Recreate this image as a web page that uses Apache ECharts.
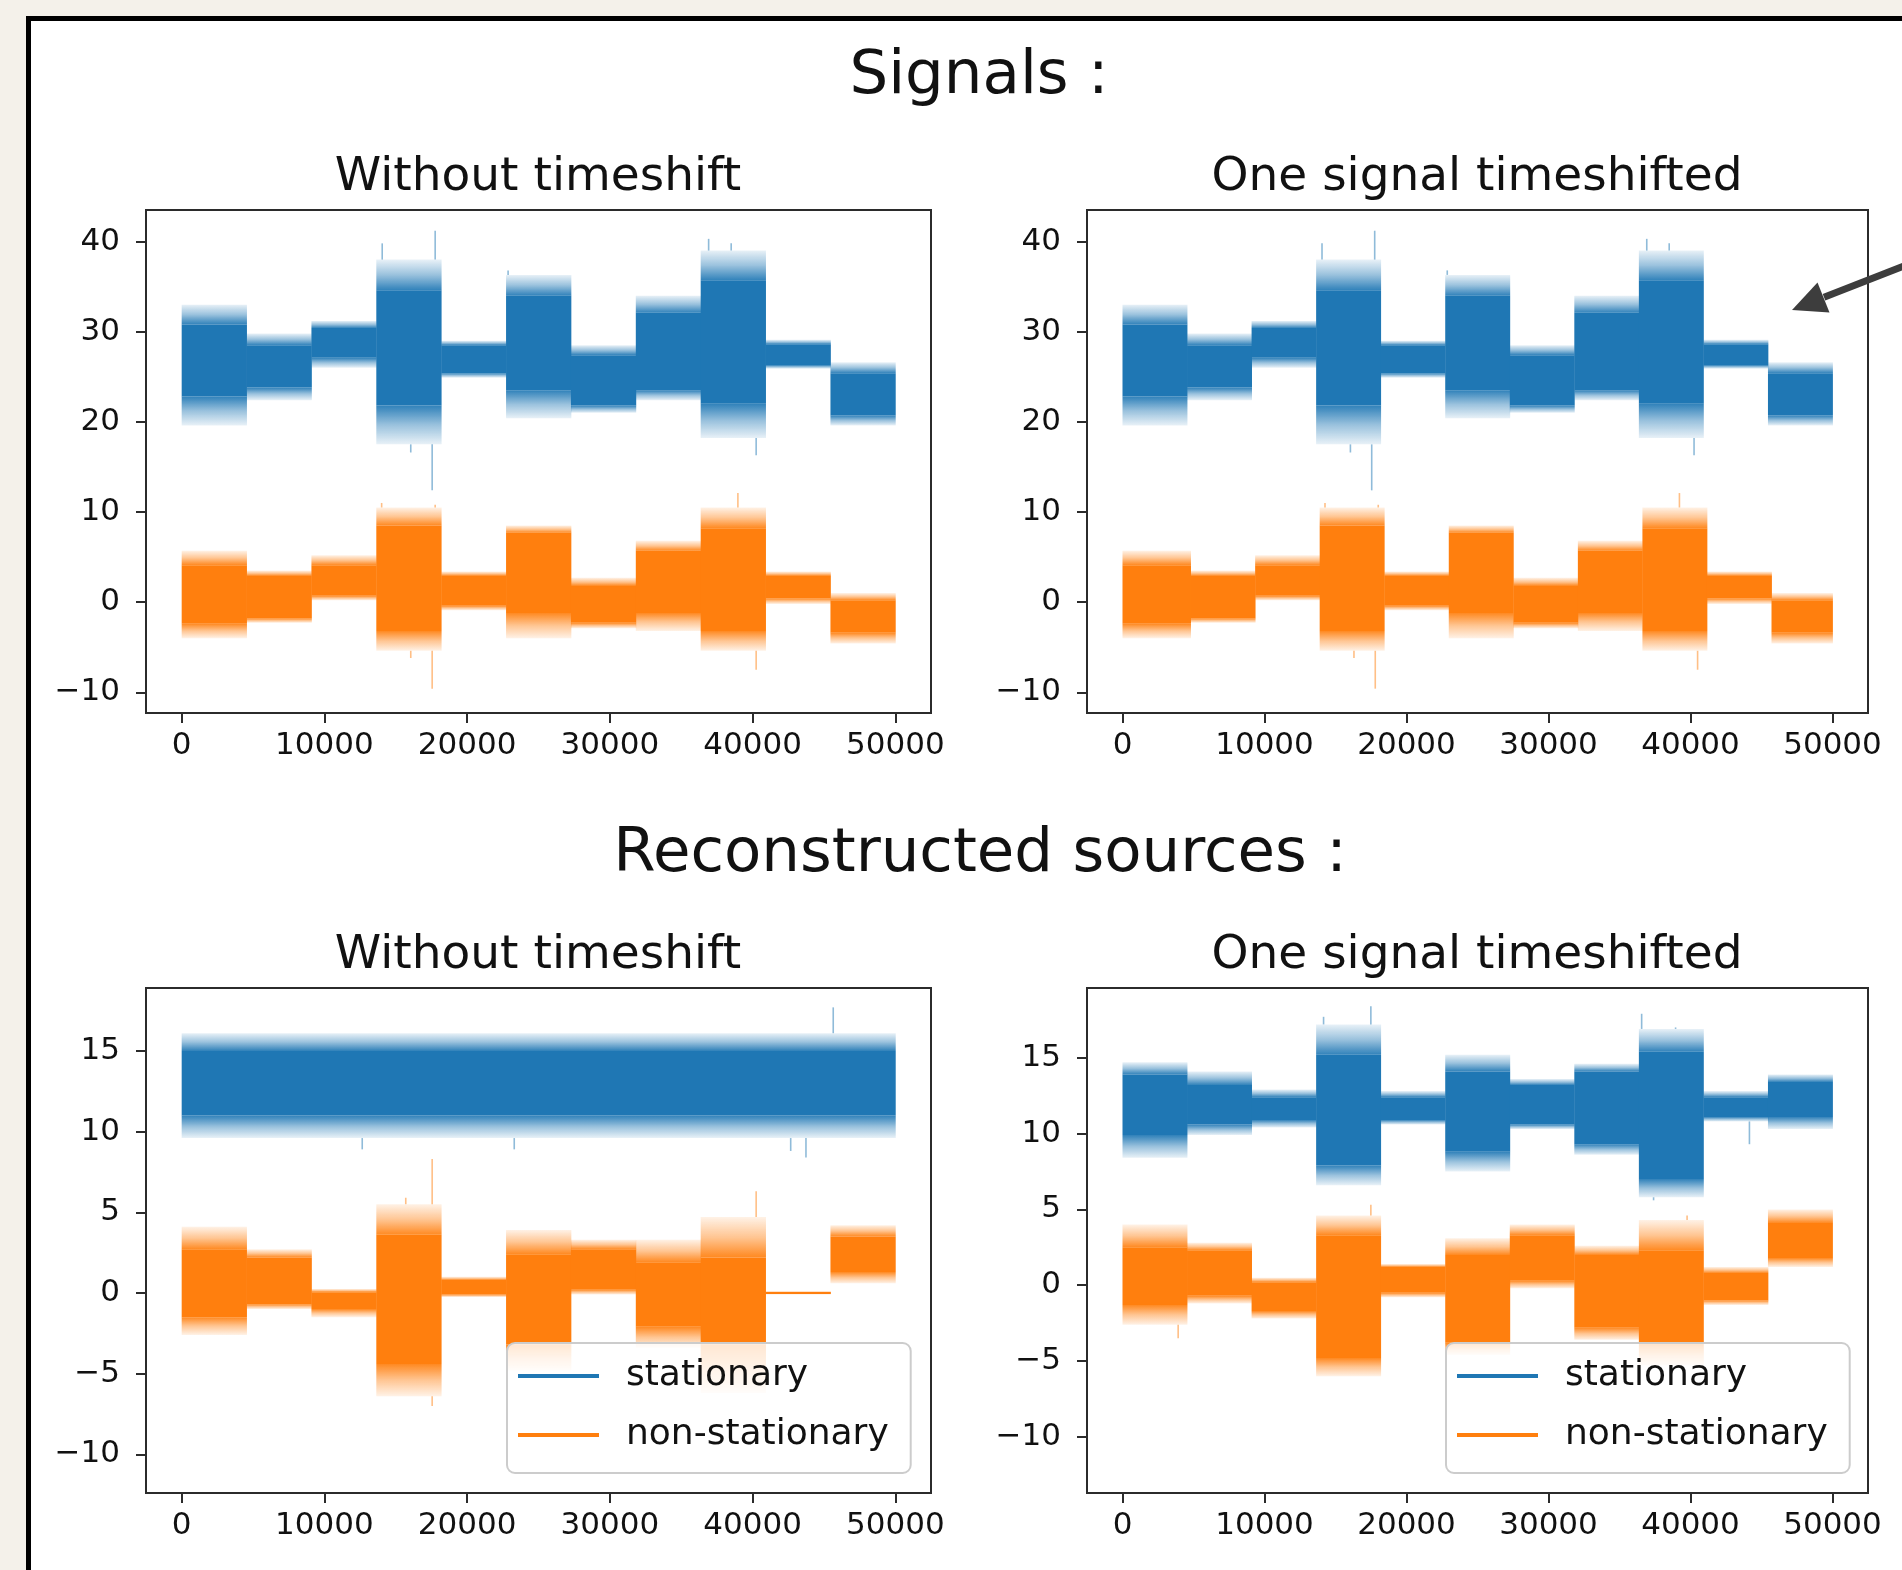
<!DOCTYPE html>
<html>
<head>
<meta charset="utf-8">
<script src="https://cdn.jsdelivr.net/npm/echarts@6/dist/echarts.min.js"></script>
<style>
  html, body { margin: 0; padding: 0; width: 1902px; height: 1570px; overflow: hidden; background: #f4f1ea; }
  #sheet { position: absolute; left: 26px; top: 16px; width: 1900px; height: 1580px; background: #fff;
           border-left: 5px solid #000; border-top: 5px solid #000; }
  #chart { position: absolute; left: 0; top: 0; width: 1902px; height: 1570px; }
</style>
</head>
<body>
<div id="sheet"></div>
<div id="chart"></div>
<script>
// ---- sample-index boundaries of the piecewise segments ----
const SEGMENT_EDGES = [0, 4545, 9091, 13636, 18182, 22727, 27273, 31818, 36364, 40909, 45455, 50000];
const SHIFTED_EDGES = [0, 4795, 9341, 13886, 18432, 22977, 27523, 32068, 36614, 41159, 45705, 50000];
const FULL_SPAN = [0, 50000];

// ---- tick labels ----
const X_TICKS = [0, 10000, 20000, 30000, 40000, 50000];
const Y_TICKS_SIGNALS = [-10, 0, 10, 20, 30, 40];
const Y_TICKS_SOURCES = [-10, -5, 0, 5, 10, 15];

// ---- each row: [spike low, body low, body high, spike high] for one segment ----
const signal1 = [
  [19.6, 22.8, 30.8, 33.0],
  [22.4, 23.8, 28.5, 29.8],
  [26.0, 27.1, 30.4, 31.2],
  [17.5, 21.8, 34.6, 38.0],
  [24.9, 25.4, 28.5, 29.0],
  [20.4, 23.5, 34.0, 36.3],
  [21.0, 21.8, 27.4, 28.5],
  [22.4, 23.5, 32.1, 34.0],
  [18.2, 22.0, 35.7, 39.0],
  [25.9, 26.3, 28.6, 29.1],
  [19.6, 20.7, 25.4, 26.6]
];
const signal2 = [
  [-4.0, -2.4, 4.1, 5.7],
  [-2.3, -1.8, 2.9, 3.5],
  [0.2, 0.7, 4.1, 5.2],
  [-5.4, -3.2, 8.5, 10.5],
  [-0.9, -0.4, 2.9, 3.4],
  [-4.0, -1.2, 7.7, 8.5],
  [-2.9, -2.3, 1.8, 2.7],
  [-3.2, -1.2, 5.7, 6.8],
  [-5.4, -3.2, 8.2, 10.5],
  [-0.2, 0.4, 2.9, 3.4],
  [-4.6, -3.4, 0.2, 1.0]
];
const stationaryPlain = [
  [9.6, 11.0, 15.0, 16.1]
];
const nonStationaryPlain = [
  [-2.6, -1.5, 2.7, 4.1],
  [-1.0, -0.7, 2.2, 2.7],
  [-1.5, -1.0, 0.05, 0.25],
  [-6.4, -4.4, 3.6, 5.5],
  [-0.25, -0.1, 0.8, 1.0],
  [-4.8, -3.2, 2.4, 3.9],
  [-0.1, 0.2, 2.7, 3.3],
  [-3.4, -2.1, 1.9, 3.3],
  [-6.2, -3.2, 2.2, 4.7],
  [-0.1, -0.06, 0.06, 0.1],
  [0.6, 1.3, 3.5, 4.2]
];
const stationaryShifted = [
  [8.4, 9.9, 13.9, 14.7],
  [9.9, 10.6, 13.2, 14.1],
  [10.4, 10.9, 12.4, 12.9],
  [6.6, 7.9, 15.2, 17.2],
  [10.6, 10.9, 12.4, 12.8],
  [7.5, 8.8, 14.1, 15.2],
  [10.3, 10.6, 13.2, 13.6],
  [8.6, 9.3, 14.1, 14.6],
  [5.8, 7.0, 15.4, 16.9],
  [10.8, 11.1, 12.4, 12.8],
  [10.3, 11.1, 13.4, 13.9]
];
const nonStationaryShifted = [
  [-2.6, -1.3, 2.5, 4.0],
  [-1.2, -0.7, 2.3, 2.8],
  [-2.2, -1.7, 0.2, 0.5],
  [-6.0, -4.8, 3.3, 4.6],
  [-0.8, -0.5, 1.2, 1.4],
  [-4.6, -3.8, 2.0, 3.1],
  [-0.2, 0.3, 3.3, 4.0],
  [-3.6, -2.8, 2.0, 2.6],
  [-5.3, -4.0, 2.3, 4.3],
  [-1.3, -1.0, 0.8, 1.2],
  [1.2, 1.8, 4.1, 5.0]
];

// ---- isolated spikes: [sample index, from, to] ----
const signal1Spikes = [[14050, 38.0, 39.8], [17760, 38.0, 41.2], [17550, 17.5, 12.4], [16050, 17.5, 16.6],
  [22870, 36.3, 36.8], [36920, 39.0, 40.3], [38500, 39.0, 39.8], [40250, 18.2, 16.3]];
const signal2Spikes = [[14010, 10.5, 11.0], [17760, 10.5, 10.8], [17550, -5.4, -9.6], [16050, -5.4, -6.2],
  [38970, 10.5, 12.1], [40250, -5.4, -7.5]];
const signal2ShiftedSpikes = [[14260, 10.5, 11.0], [18010, 10.5, 10.8], [17800, -5.4, -9.6], [16300, -5.4, -6.2],
  [39220, 10.5, 12.1], [40500, -5.4, -7.5]];
const stationaryPlainSpikes = [[45650, 16.1, 17.7], [43740, 9.6, 8.4], [12650, 9.6, 8.9], [23300, 9.6, 8.9], [42670, 9.6, 8.8]];
const nonStationaryPlainSpikes = [[17550, 5.5, 8.3], [17550, -6.4, -7.0], [40250, 4.7, 6.3], [15700, 5.5, 5.9]];
const stationaryShiftedSpikes = [[14160, 17.2, 17.7], [17490, 17.2, 18.4], [36560, 16.9, 17.9], [38950, 16.9, 17.0],
  [37400, 5.8, 5.6], [44150, 10.8, 9.3]];
const nonStationaryShiftedSpikes = [[17490, 4.6, 5.3], [3920, -2.6, -3.5], [39760, 4.3, 4.6]];

// ---- styling ----
const BLUE = '#1f77b4';
const ORANGE = '#ff7f0e';
const AX = '#2b2b2b';
const TXT = '#111111';
const FONT = '"DejaVu Sans", "Noto Sans", sans-serif';

function rgba(hex, a) {
  const n = parseInt(hex.slice(1), 16);
  return 'rgba(' + (n >> 16 & 255) + ',' + (n >> 8 & 255) + ',' + (n & 255) + ',' + a + ')';
}

// body of a segment drawn solid, the spiky fringe above and below fading outward
function renderBand(params, api) {
  const x0 = api.value(0), x1 = api.value(1);
  const tl = api.value(2), cl = api.value(3), ch = api.value(4), th = api.value(5);
  const color = api.visual('color');
  const pTop = api.coord([x0, th]);
  const pEnd = api.coord([x1, ch]);
  const yCh = pEnd[1];
  const yCl = api.coord([x0, cl])[1];
  const yTl = api.coord([x0, tl])[1];
  const px0 = pTop[0], w = pEnd[0] - pTop[0] + 0.4;
  const up = new echarts.graphic.LinearGradient(0, 0, 0, 1, [
    { offset: 0, color: rgba(color, 0.1) }, { offset: 0.5, color: rgba(color, 0.45) },
    { offset: 1, color: rgba(color, 0.92) }]);
  const down = new echarts.graphic.LinearGradient(0, 0, 0, 1, [
    { offset: 0, color: rgba(color, 0.92) }, { offset: 0.5, color: rgba(color, 0.45) },
    { offset: 1, color: rgba(color, 0.1) }]);
  return {
    type: 'group',
    children: [
      { type: 'rect', shape: { x: px0, y: pTop[1], width: w, height: yCh - pTop[1] }, style: { fill: up } },
      { type: 'rect', shape: { x: px0, y: yCh, width: w, height: Math.max(yCl - yCh, 1.5) }, style: { fill: color } },
      { type: 'rect', shape: { x: px0, y: yCl, width: w, height: yTl - yCl }, style: { fill: down } }
    ]
  };
}

function renderSpike(params, api) {
  const a = api.coord([api.value(0), api.value(1)]);
  const b = api.coord([api.value(0), api.value(2)]);
  return {
    type: 'line',
    shape: { x1: a[0], y1: a[1], x2: b[0], y2: b[1] },
    style: { stroke: rgba(api.visual('color'), 0.5), lineWidth: 1.6 }
  };
}

function bandSeries(name, g, edges, rows, color) {
  return {
    type: 'custom', name: name, xAxisIndex: g, yAxisIndex: g,
    data: rows.map((r, i) => [edges[i], edges[i + 1], r[0], r[1], r[2], r[3]]),
    encode: { x: [0, 1], y: [2, 3, 4, 5] },
    itemStyle: { color: color },
    renderItem: renderBand, silent: true, clip: true
  };
}

function spikeSeries(name, g, spikes, color) {
  return {
    type: 'custom', name: name, xAxisIndex: g, yAxisIndex: g,
    data: spikes, encode: { x: 0, y: [1, 2] },
    itemStyle: { color: color },
    renderItem: renderSpike, silent: true, clip: true
  };
}

const GRIDS = [
  { left: 146, top: 210, width: 785, height: 503 },
  { left: 1087, top: 210, width: 781, height: 503 },
  { left: 146, top: 988, width: 785, height: 505 },
  { left: 1087, top: 988, width: 781, height: 505 }
];
const Y_RANGES = [[-12.3, 43.5], [-12.3, 43.5], [-12.4, 18.9], [-13.7, 19.6]];

const tickText = v => (v < 0 ? '\u2212' + (-v) : String(v));

const xAxes = GRIDS.map((g, i) => ({
  type: 'value', gridIndex: i, min: -2500, max: 52500, position: 'bottom',
  axisLine: { show: false, onZero: false },
  axisTick: { show: true, length: 10, customValues: X_TICKS, lineStyle: { color: AX, width: 2 } },
  axisLabel: { customValues: X_TICKS, margin: 17, fontSize: 31, fontFamily: FONT, color: TXT, formatter: tickText },
  splitLine: { show: false }
}));
const yAxes = GRIDS.map((g, i) => {
  const ticks = i < 2 ? Y_TICKS_SIGNALS : Y_TICKS_SOURCES;
  return {
    type: 'value', gridIndex: i, min: Y_RANGES[i][0], max: Y_RANGES[i][1], position: 'left',
    axisLine: { show: false, onZero: false },
    axisTick: { show: true, length: 10, customValues: ticks, lineStyle: { color: AX, width: 2 } },
    axisLabel: { customValues: ticks, margin: 26, fontSize: 31, fontFamily: FONT, color: TXT, formatter: tickText },
    splitLine: { show: false }
  };
});

const series = [
  bandSeries('signal 1', 0, SEGMENT_EDGES, signal1, BLUE),
  spikeSeries('signal 1', 0, signal1Spikes, BLUE),
  bandSeries('signal 2', 0, SEGMENT_EDGES, signal2, ORANGE),
  spikeSeries('signal 2', 0, signal2Spikes, ORANGE),

  bandSeries('signal 1', 1, SEGMENT_EDGES, signal1, BLUE),
  spikeSeries('signal 1', 1, signal1Spikes, BLUE),
  bandSeries('signal 2', 1, SHIFTED_EDGES, signal2, ORANGE),
  spikeSeries('signal 2', 1, signal2ShiftedSpikes, ORANGE),

  bandSeries('stationary', 2, FULL_SPAN, stationaryPlain, BLUE),
  spikeSeries('stationary', 2, stationaryPlainSpikes, BLUE),
  bandSeries('non-stationary', 2, SEGMENT_EDGES, nonStationaryPlain, ORANGE),
  spikeSeries('non-stationary', 2, nonStationaryPlainSpikes, ORANGE),

  bandSeries('stationary', 3, SEGMENT_EDGES, stationaryShifted, BLUE),
  spikeSeries('stationary', 3, stationaryShiftedSpikes, BLUE),
  bandSeries('non-stationary', 3, SEGMENT_EDGES, nonStationaryShifted, ORANGE),
  spikeSeries('non-stationary', 3, nonStationaryShiftedSpikes, ORANGE)
];

const legendFor = left => ({
  orient: 'vertical', left: left, top: 1343,
  data: ['stationary', 'non-stationary'],
  icon: 'rect', itemWidth: 81, itemHeight: 4, itemGap: 19,
  selectedMode: false,
  textStyle: { fontSize: 36, fontFamily: FONT, color: TXT, lineHeight: 40, padding: [0, 0, 0, 22] },
  backgroundColor: 'rgba(255,255,255,0.8)',
  borderColor: '#cccccc', borderWidth: 2, borderRadius: 8,
  padding: [13, 22, 18, 11], z: 10
});

const textEl = (text, x, y, size) => ({
  type: 'text', x: x, y: y, z: 20,
  style: { text: text, font: size + 'px ' + FONT, fill: TXT, textAlign: 'center', textVerticalAlign: 'middle' }
});

const chart = echarts.init(document.getElementById('chart'), null, { renderer: 'canvas' });
chart.setOption({
  backgroundColor: 'transparent',
  animation: false,
  grid: GRIDS.map(g => Object.assign({ show: true, borderColor: AX, borderWidth: 2, backgroundColor: 'transparent' }, g)),
  xAxis: xAxes,
  yAxis: yAxes,
  legend: [legendFor(507), legendFor(1446)],
  series: series,
  graphic: [
    textEl('Signals :', 979, 77, 61),
    textEl('Without timeshift', 538, 178, 47),
    textEl('One signal timeshifted', 1477, 178, 47),
    textEl('Reconstructed sources :', 980, 855, 61),
    textEl('Without timeshift', 538, 956, 47),
    textEl('One signal timeshifted', 1477, 956, 47),
    // pointer towards the shifted signal
    { type: 'line', z: 30, shape: { x1: 1910, y1: 263.6, x2: 1824, y2: 297.2 },
      style: { stroke: '#3d3d3d', lineWidth: 7 } },
    { type: 'polygon', z: 30, shape: { points: [[1792, 310], [1817.5, 282.5], [1829.5, 312.5]] },
      style: { fill: '#3d3d3d' } }
  ]
});
</script>
</body>
</html>
